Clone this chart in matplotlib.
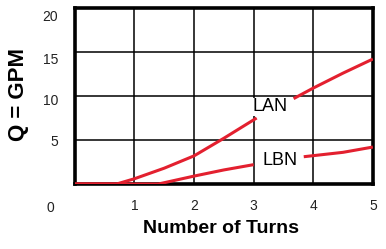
import matplotlib
matplotlib.use("Agg")
import matplotlib.pyplot as plt
import matplotlib.transforms as mtransforms
import numpy as np

# Data
lan_x = [0.0, 0.7, 1.0, 1.5, 2.0, 2.5, 3.05, np.nan, 3.67, 4.0, 4.5, 5.0]
lan_y = [0.0, 0.0, 0.6, 1.8, 3.2, 5.2, 7.5, np.nan, 9.7, 10.9, 12.6, 14.2]
lbn_x = [0.0, 1.4, 2.0, 2.5, 3.0, np.nan, 3.84, 4.5, 5.0]
lbn_y = [0.0, 0.0, 0.9, 1.6, 2.2, np.nan, 3.1, 3.6, 4.2]
x_ticks = [1, 2, 3, 4, 5]
y_ticks = [5, 10, 15, 20]
series_labels = ["LAN", "LBN"]

plt.rcParams['font.family'] = ['Liberation Sans', 'DejaVu Sans']

fig = plt.figure(figsize=(3.86, 2.49), dpi=100)
ax = fig.add_axes([0.194, 0.261, 0.772, 0.707])
ax.set_xlim(0, 5)
ax.set_ylim(0, 20)

red = '#e3202f'
ax.plot(lan_x, lan_y, color=red, lw=2.2, solid_capstyle='butt', zorder=3)
ax.plot(lbn_x, lbn_y, color=red, lw=2.2, solid_capstyle='butt', zorder=3)

ax.set_xticks(x_ticks)
ax.set_yticks(y_ticks)
ax.grid(True, color='black', lw=1.1)
ax.set_axisbelow(True)
ax.tick_params(length=0, labelsize=10, labelcolor='#222222')
ax.tick_params(axis='x', pad=11)
ax.tick_params(axis='y', pad=12)
for sp in ax.spines.values():
    sp.set_linewidth(2.6)

# shift y tick labels down slightly as in the reference
fig.canvas.draw()
shifts = [0, 4, 7, 8]
for lab, s in zip(ax.get_yticklabels(), shifts):
    lab.set_transform(lab.get_transform() +
                      mtransforms.ScaledTranslation(0, -s / 100, fig.dpi_scale_trans))

ax.text(-0.41, -0.095, "0", transform=ax.get_xaxis_transform(), ha='center', va='top',
        fontsize=10, color='#222222', clip_on=False)

ax.text(3.27, 8.75, series_labels[0], ha='center', va='center', fontsize=13,
        bbox=dict(facecolor='white', edgecolor='none', pad=0.3), zorder=4)
ax.text(3.44, 2.7, series_labels[1], ha='center', va='center', fontsize=13,
        bbox=dict(facecolor='white', edgecolor='none', pad=0.3), zorder=4)

ax.set_xlabel("Number of Turns", fontsize=14, fontweight='bold')
ax.xaxis.set_label_coords(0.49, -0.25)
ax.xaxis.label.set_va('center')
ax.set_ylabel("Q = GPM", fontsize=16, fontweight='bold')
ax.yaxis.set_label_coords(-0.19, 0.51)
ax.yaxis.label.set_va('center')

fig.savefig("out.png", dpi=100)
